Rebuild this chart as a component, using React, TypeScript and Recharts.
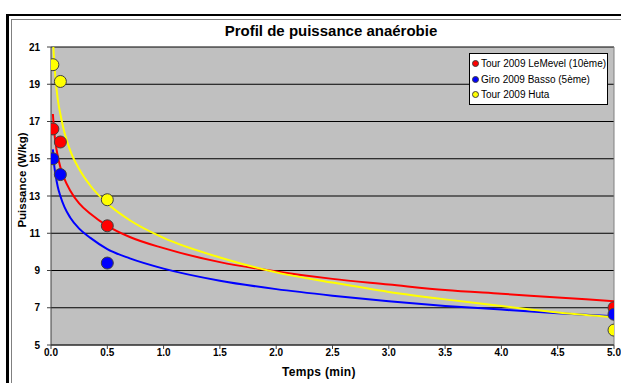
import { CartesianGrid, ComposedChart, Line, ReferenceLine, Scatter, XAxis, YAxis } from 'recharts'

const FONT = '"Liberation Sans", Arial, sans-serif'

// measured efforts (minutes)
const TIMES = [0.0167, 0.0833, 0.5, 5]
const LEMEVEL = [16.6, 15.9, 11.4, 7.0]
const BASSO = [15.0, 14.15, 9.4, 6.65]
const HUTA = [20.05, 19.15, 12.8, 5.8]

// trend lines
const CURVE_X = [0.0167, 0.025, 0.04, 0.06, 0.083, 0.12, 0.17, 0.25, 0.35, 0.5, 0.7, 1, 1.5, 2, 2.5, 3, 3.5, 4, 4.5, 5]
const LEMEVEL_TREND = [17.4, 16.7, 15.85, 15.15, 14.55, 13.9, 13.3, 12.6, 12.05, 11.4, 10.8, 10.2, 9.45, 8.95, 8.55, 8.25, 7.95, 7.75, 7.55, 7.35]
const BASSO_TREND = [15.5, 14.85, 14.15, 13.5, 13.0, 12.4, 11.85, 11.25, 10.75, 10.15, 9.65, 9.1, 8.45, 8.0, 7.65, 7.35, 7.1, 6.9, 6.7, 6.55]
const HUTA_X = [0.021, 0.025, 0.04, 0.06, 0.083, 0.12, 0.17, 0.25, 0.35, 0.5, 0.7, 1, 1.5, 2, 2.5, 3, 3.5, 4, 4.5, 5]
const HUTA_TREND = [21.0, 20.55, 19.3, 18.2, 17.4, 16.4, 15.45, 14.45, 13.55, 12.6, 11.7, 10.75, 9.7, 8.9, 8.35, 7.85, 7.45, 7.1, 6.75, 6.5]

const X_TICKS = [0, 0.5, 1, 1.5, 2, 2.5, 3, 3.5, 4, 4.5, 5]
const Y_TICKS = [5, 7, 9, 11, 13, 15, 17, 19, 21]

const SERIES = [
  { name: 'Tour 2009 LeMevel (10ème)', color: '#ff0000', pts: LEMEVEL, trend: LEMEVEL_TREND, tx: CURVE_X },
  { name: 'Giro 2009 Basso (5ème)', color: '#0000ff', pts: BASSO, trend: BASSO_TREND, tx: CURVE_X },
  { name: 'Tour 2009 Huta', color: '#ffff00', pts: HUTA, trend: HUTA_TREND, tx: HUTA_X }
]

const toRows = (xs: number[], ys: number[]) => xs.map((x, i) => ({ x, y: ys[i] }))

const tickStyle = { fontFamily: FONT, fontSize: 10, fontWeight: 'bold', fill: '#000' }

export default function App() {
  return (
    <div style={{ position: 'absolute', left: 0, top: 0, width: 621, height: 383, overflow: 'hidden', background: '#fff', fontFamily: FONT }}>
      {/* chart frame */}
      <div style={{ position: 'absolute', left: 6, top: 14, width: 700, height: 500, borderLeft: '3px solid #000', borderTop: '2px solid #000' }} />
      <div style={{ position: 'absolute', left: 11, top: 19, width: 700, height: 500, borderLeft: '1px solid #808080', borderTop: '1px solid #808080' }} />

      <div style={{ position: 'absolute', left: 0, width: 662, top: 22, textAlign: 'center', fontSize: 15, fontWeight: 'bold' }}>
        Profil de puissance anaérobie
      </div>

      <div style={{ position: 'absolute', left: 0, top: 0 }}>
        <ComposedChart width={621} height={383} margin={{ top: 47, right: 7, bottom: 0, left: 0 }}>
          <CartesianGrid fill="#c0c0c0" stroke="#000" vertical={false} horizontalValues={Y_TICKS} />
          <XAxis
            dataKey="x"
            type="number"
            domain={[0, 5]}
            ticks={X_TICKS}
            tickFormatter={(v) => v.toFixed(1)}
            tick={tickStyle}
            tickSize={4}
            tickMargin={0}
            height={38}
            stroke="#404040"
            allowDataOverflow
          />
          <YAxis
            type="number"
            domain={[5, 21]}
            ticks={Y_TICKS}
            tick={tickStyle}
            tickSize={4}
            tickMargin={7}
            width={51}
            stroke="#404040"
            allowDataOverflow
          />
          <ReferenceLine x={5} stroke="#808080" />
          {SERIES.map((s) => (
            <Line
              key={s.name + '-trend'}
              data={toRows(s.tx, s.trend)}
              dataKey="y"
              type="monotone"
              stroke={s.color}
              strokeWidth={2}
              dot={false}
              isAnimationActive={false}
            />
          ))}
          {SERIES.map((s) => (
            <Scatter
              key={s.name}
              name={s.name}
              data={toRows(TIMES, s.pts)}
              dataKey="y"
              isAnimationActive={false}
              shape={(p: any) => <circle cx={p.cx} cy={p.cy} r={6} fill={s.color} stroke="#404040" strokeWidth={1} />}
            />
          ))}
        </ComposedChart>
      </div>

      <div
        style={{
          position: 'absolute',
          left: 14,
          top: 180,
          transform: 'translate(-50%, -50%) rotate(-90deg)',
          transformOrigin: 'center',
          fontSize: 11.5,
          fontWeight: 'bold',
          whiteSpace: 'nowrap',
          marginLeft: 8
        }}
      >
        Puissance (W/kg)
      </div>

      <div style={{ position: 'absolute', left: 282, top: 365, fontSize: 12, fontWeight: 'bold', whiteSpace: 'nowrap', letterSpacing: 0.3 }}>
        Temps (min)
      </div>

      {/* legend */}
      <div
        style={{
          position: 'absolute',
          left: 469,
          top: 53,
          width: 137,
          height: 48,
          border: '1px solid #000',
          background: '#fff',
          fontSize: 10,
          paddingTop: 2
        }}
      >
        {SERIES.map((s) => (
          <div key={s.name} style={{ display: 'flex', alignItems: 'center', height: 15.5, paddingLeft: 2 }}>
            <span
              style={{
                display: 'inline-block',
                width: 5,
                height: 5,
                borderRadius: '50%',
                background: s.color,
                border: '1px solid #404040',
                marginRight: 2
              }}
            />
            <span style={{ whiteSpace: 'nowrap' }}>{s.name}</span>
          </div>
        ))}
      </div>
    </div>
  )
}
